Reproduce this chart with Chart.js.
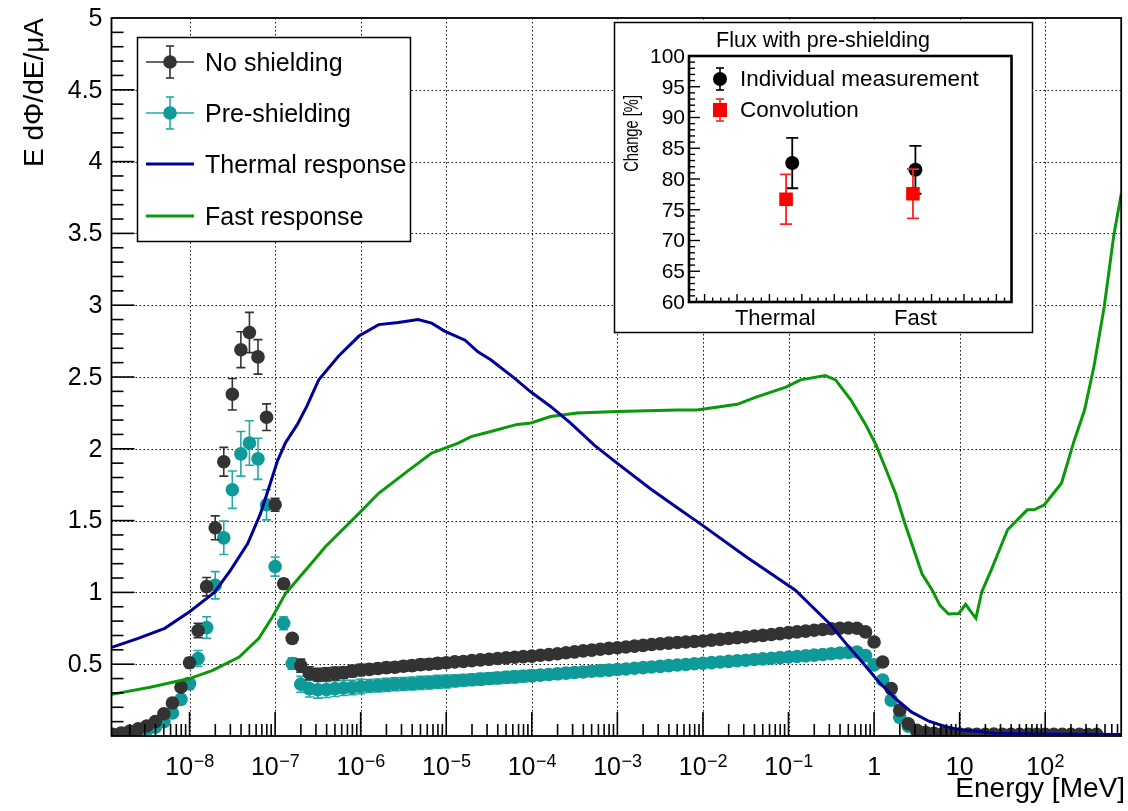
<!DOCTYPE html>
<html>
<head>
<meta charset="utf-8">
<title>Neutron flux with and without pre-shielding</title>
<script src="https://cdn.jsdelivr.net/npm/chart.js@4.4.1/dist/chart.umd.min.js"></script>
<style>
  html, body { margin: 0; padding: 0; background: #fff; }
  #wrap { position: relative; width: 1128px; height: 811px; overflow: hidden; }
  #main { position: absolute; left: 0; top: 0; }
  #inset { position: absolute; left: 613px; top: 21px; }
</style>
</head>
<body>
<div id="wrap">
  <canvas id="main" width="1128" height="811"></canvas>
  <canvas id="inset" width="421" height="313"></canvas>
</div>
<script>
const FONT = '"Liberation Sans", Arial, Helvetica, sans-serif';

// ---- measured spectra: bin centres, ten bins per decade from 10^-8.9 MeV ----
const firstLogE = -8.9;
const binsPerDecade = 10;

const noShieldingFlux = [
  0.012, 0.02, 0.033, 0.05, 0.07, 0.10, 0.155, 0.23, 0.34, 0.51,
  0.735, 1.04, 1.45, 1.91, 2.38, 2.69, 2.81, 2.64, 2.22, 1.61,
  1.06, 0.68, 0.49, 0.437, 0.426, 0.43, 0.436, 0.441, 0.452, 0.46,
  0.464, 0.47, 0.476, 0.479, 0.486, 0.49, 0.497, 0.5, 0.506, 0.51,
  0.516, 0.519, 0.525, 0.53, 0.534, 0.54, 0.544, 0.548, 0.553, 0.556,
  0.562, 0.567, 0.573, 0.58, 0.586, 0.593, 0.598, 0.604, 0.61, 0.615,
  0.62, 0.626, 0.631, 0.637, 0.642, 0.647, 0.651, 0.655, 0.658, 0.662,
  0.668, 0.673, 0.679, 0.685, 0.69, 0.696, 0.701, 0.707, 0.713, 0.72,
  0.725, 0.73, 0.736, 0.742, 0.747, 0.75, 0.752, 0.75, 0.725, 0.655,
  0.515, 0.33, 0.18, 0.085, 0.04, 0.025, 0.018, 0.015, 0.014, 0.013,
  0.013, 0.012, 0.012, 0.013, 0.012, 0.011, 0.012, 0.012, 0.011, 0.012,
  0.011, 0.012, 0.011, 0.011, 0.01, 0.011
];
const noShieldingErr = [
  0.004, 0.005, 0.006, 0.008, 0.01, 0.012, 0.015, 0.02, 0.025, 0.035,
  0.05, 0.064, 0.083, 0.10, 0.11, 0.125, 0.14, 0.12, 0.093, 0.045,
  0.035, 0.03, 0.045, 0.045, 0.045, 0.045, 0.045, 0.04, 0.04, 0.04,
  0.035, 0.035, 0.035, 0.035, 0.035, 0.035, 0.035, 0.035, 0.035, 0.035,
  0.03, 0.03, 0.03, 0.03, 0.03, 0.03, 0.03, 0.03, 0.03, 0.03,
  0.025, 0.025, 0.025, 0.025, 0.025, 0.025, 0.025, 0.025, 0.025, 0.025,
  0.02, 0.02, 0.02, 0.02, 0.02, 0.02, 0.02, 0.02, 0.02, 0.02,
  0.02, 0.02, 0.02, 0.02, 0.02, 0.02, 0.02, 0.02, 0.02, 0.02,
  0.02, 0.02, 0.02, 0.02, 0.02, 0.02, 0.02, 0.02, 0.02, 0.02,
  0.018, 0.015, 0.01, 0.008, 0.005, 0.004, 0.004, 0.003, 0.003, 0.003,
  0.003, 0.003, 0.003, 0.003, 0.003, 0.003, 0.003, 0.003, 0.003, 0.003,
  0.003, 0.003, 0.003, 0.003, 0.003, 0.003
];
const preShieldingFlux = [
  0.006, 0.01, 0.017, 0.026, 0.04, 0.062, 0.10, 0.16, 0.255, 0.365,
  0.54, 0.755, 1.05, 1.38, 1.715, 1.965, 2.04, 1.93, 1.61, 1.18,
  0.785, 0.505, 0.36, 0.33, 0.322, 0.324, 0.33, 0.334, 0.338, 0.345,
  0.348, 0.352, 0.356, 0.36, 0.362, 0.366, 0.37, 0.372, 0.377, 0.38,
  0.384, 0.388, 0.392, 0.396, 0.4, 0.404, 0.408, 0.412, 0.416, 0.42,
  0.424, 0.428, 0.433, 0.438, 0.442, 0.446, 0.451, 0.455, 0.459, 0.463,
  0.467, 0.472, 0.476, 0.481, 0.485, 0.49, 0.494, 0.498, 0.503, 0.507,
  0.511, 0.515, 0.52, 0.524, 0.528, 0.533, 0.537, 0.541, 0.546, 0.55,
  0.554, 0.558, 0.563, 0.568, 0.573, 0.578, 0.582, 0.585, 0.56, 0.495,
  0.39, 0.25, 0.13, 0.068, 0.03, 0.016, 0.011, 0.009, 0.008, 0.008,
  0.008, 0.007, 0.008, 0.007, 0.007, 0.008, 0.007, 0.007, 0.006, 0.007,
  0.007, 0.006, 0.007, 0.006, 0.006, 0.006
];
const preShieldingErr = [
  0.003, 0.004, 0.005, 0.007, 0.009, 0.012, 0.016, 0.022, 0.03, 0.04,
  0.055, 0.075, 0.095, 0.116, 0.13, 0.155, 0.155, 0.143, 0.105, 0.067,
  0.045, 0.04, 0.055, 0.058, 0.058, 0.056, 0.055, 0.052, 0.05, 0.05,
  0.045, 0.045, 0.045, 0.045, 0.045, 0.045, 0.045, 0.045, 0.045, 0.045,
  0.04, 0.04, 0.04, 0.04, 0.04, 0.04, 0.04, 0.04, 0.04, 0.04,
  0.035, 0.035, 0.035, 0.035, 0.035, 0.035, 0.035, 0.035, 0.035, 0.035,
  0.03, 0.03, 0.03, 0.03, 0.03, 0.03, 0.03, 0.03, 0.03, 0.03,
  0.03, 0.03, 0.03, 0.03, 0.03, 0.03, 0.03, 0.03, 0.03, 0.03,
  0.03, 0.03, 0.03, 0.03, 0.03, 0.03, 0.03, 0.03, 0.03, 0.025,
  0.02, 0.015, 0.01, 0.006, 0.004, 0.003, 0.003, 0.003, 0.003, 0.003,
  0.003, 0.003, 0.003, 0.003, 0.003, 0.003, 0.003, 0.003, 0.003, 0.003,
  0.003, 0.003, 0.003, 0.003, 0.003, 0.003
];

// ---- detector response curves (log10 E [MeV], response) ----
const thermalLogE = [
  -8.91, -8.6, -8.29, -8.0, -7.71, -7.52, -7.32, -7.17, -7.05, -6.97,
  -6.88, -6.74, -6.63, -6.49, -6.26, -6.02, -5.79, -5.56, -5.33, -5.17,
  -5.02, -4.78, -4.63, -4.48, -4.2, -4.01, -3.78, -3.55, -3.27, -3.0,
  -2.61, -2.3, -2.0, -1.5, -0.92, -0.525, -0.33, -0.14, 0.056, 0.25,
  0.44, 0.64, 0.83, 1.0, 1.22, 1.41, 1.8, 2.2, 2.89
];
const thermalResp = [
  0.617, 0.68, 0.75, 0.865, 1.0, 1.155, 1.34, 1.55, 1.77, 1.92,
  2.04, 2.17, 2.295, 2.48, 2.645, 2.785, 2.865, 2.88, 2.9, 2.875,
  2.82, 2.756, 2.675, 2.62, 2.49, 2.395, 2.295, 2.18, 2.025, 1.898,
  1.72, 1.59, 1.465, 1.25, 1.015, 0.785, 0.645, 0.515, 0.376, 0.26,
  0.166, 0.103, 0.066, 0.043, 0.031, 0.02, 0.015, 0.012, 0.01
];
const fastLogE = [
  -8.91, -8.46, -8.0, -7.73, -7.42, -7.19, -7.03, -6.88, -6.78, -6.55,
  -6.41, -6.02, -5.79, -5.44, -5.17, -4.86, -4.71, -4.48, -4.17, -4.01,
  -3.78, -3.47, -3.0, -2.3, -2.07, -1.6, -1.38, -1.03, -0.86, -0.57,
  -0.45, -0.27, -0.1, 0.02, 0.13, 0.25, 0.36, 0.44, 0.56, 0.68,
  0.77, 0.87, 0.99, 1.07, 1.12, 1.19, 1.26, 1.37, 1.56, 1.79,
  1.87, 1.99, 2.19, 2.34, 2.46, 2.57, 2.69, 2.8, 2.89
];
const fastResp = [
  0.29, 0.34, 0.40, 0.457, 0.55, 0.68, 0.83, 0.99, 1.06, 1.22,
  1.32, 1.55, 1.69, 1.85, 1.97, 2.04, 2.085, 2.12, 2.17, 2.18,
  2.225, 2.25, 2.26, 2.27, 2.27, 2.31, 2.36, 2.43, 2.48, 2.51,
  2.48, 2.34, 2.17, 2.03, 1.87, 1.69, 1.48, 1.34, 1.13, 1.015,
  0.91, 0.85, 0.853, 0.917, 0.875, 0.82, 1.006, 1.157, 1.436, 1.575,
  1.575, 1.61, 1.76, 2.06, 2.27, 2.575, 2.99, 3.48, 3.78
];

// ---- axes ----
const xLogRange = [-8.912, 2.888];
const xDecades = [-8, -7, -6, -5, -4, -3, -2, -1, 0, 1, 2];
const yRange = [0, 5];
const yTickLabels = ['0.5', '1', '1.5', '2', '2.5', '3', '3.5', '4', '4.5', '5'];

// ---- inset: change of integrated flux with pre-shielding ----
const insetCategories = ['Thermal', 'Fast'];
const insetCategoryX = [1, 2];
const individualChange = [82.6, 81.5];
const individualErr = [4.1, 3.9];
const convolutionX = [0.95, 1.98];
const convolutionChange = [76.7, 77.6];
const convolutionErr = [4.05, 4.0];
const insetYTicks = ['60', '65', '70', '75', '80', '85', '90', '95', '100'];
const insetXRange = [0.162, 2.78];
const insetTickAnchor = 2.394;   // one primary division of the category axis
const insetTickStep = 0.2632;    // primary division width, 4 secondary each

// -------------------------------------------------------------------------
const energyOf = i => Math.pow(10, firstLogE + i / binsPerDecade);
const pts = (vals) => vals.map((v, i) => ({ x: energyOf(i), y: v }));
const curve = (logs, vals) => logs.map((l, i) => ({ x: Math.pow(10, l), y: vals[i] }));

function line(ctx, x1, y1, x2, y2) {
  ctx.beginPath(); ctx.moveTo(x1, y1); ctx.lineTo(x2, y2); ctx.stroke();
}

// vertical error bars drawn underneath each marker set
const errorBars = {
  id: 'errorBars',
  beforeDatasetDraw(chart, args) {
    const ds = chart.data.datasets[args.index];
    if (!ds.errors) return;
    const { ctx, chartArea: a, scales } = chart;
    const y = scales.y;
    const meta = args.meta;
    ctx.save();
    ctx.beginPath(); ctx.rect(a.left, a.top, a.right - a.left, a.bottom - a.top); ctx.clip();
    ctx.strokeStyle = ds.errorColor; ctx.lineWidth = ds.errorWidth || 1.6;
    const cap = ds.capHalf || 4.5;
    meta.data.forEach((el, i) => {
      const v = ds.data[i].y, e = ds.errors[i];
      const yt = y.getPixelForValue(v + e), yb = y.getPixelForValue(v - e);
      line(ctx, el.x, yt, el.x, yb);
      line(ctx, el.x - cap, yt, el.x + cap, yt);
      line(ctx, el.x - cap, yb, el.x + cap, yb);
    });
    ctx.restore();
  }
};

// ROOT-like frame: dotted grid, inward ticks, labels, titles and legend
const mainFrame = {
  id: 'mainFrame',
  beforeDatasetsDraw(chart) {
    const { ctx, chartArea: a, scales: { x, y } } = chart;
    ctx.save();
    ctx.strokeStyle = '#111'; ctx.lineWidth = 1; ctx.setLineDash([1.5, 2.5]);
    xDecades.forEach(d => {
      const px = Math.round(x.getPixelForValue(Math.pow(10, d))) + 0.5;
      line(ctx, px, a.top, px, a.bottom);
    });
    yTickLabels.slice(0, -1).forEach(t => {
      const py = Math.round(y.getPixelForValue(parseFloat(t))) + 0.5;
      line(ctx, a.left, py, a.right, py);
    });
    ctx.restore();
  },
  afterDatasetsDraw(chart) {
    const { ctx, chartArea: a, scales: { x, y } } = chart;
    ctx.save();
    ctx.strokeStyle = '#000'; ctx.lineWidth = 1.6;
    // x ticks
    for (let d = Math.floor(xLogRange[0]); d <= Math.ceil(xLogRange[1]); d++) {
      for (let m = 1; m <= 9; m++) {
        const v = m * Math.pow(10, d);
        const lv = Math.log10(v);
        if (lv < xLogRange[0] || lv > xLogRange[1]) continue;
        const px = x.getPixelForValue(v);
        line(ctx, px, a.bottom, px, a.bottom - (m === 1 ? 24 : 12));
      }
    }
    // y ticks
    for (let i = 1; i < 50; i++) {
      const py = y.getPixelForValue(i / 10);
      line(ctx, a.left, py, a.left + (i % 5 === 0 ? 23 : 12), py);
    }
    // frame
    ctx.lineWidth = 1.8;
    ctx.strokeRect(a.left, a.top, a.right - a.left, a.bottom - a.top);

    // y labels
    ctx.fillStyle = '#000';
    ctx.font = `25px ${FONT}`;
    ctx.textAlign = 'right'; ctx.textBaseline = 'middle';
    yTickLabels.forEach(t => ctx.fillText(t, a.left - 9, y.getPixelForValue(parseFloat(t)) + 1));

    // x labels 10^n
    const baseY = 775;
    ctx.textBaseline = 'alphabetic'; ctx.textAlign = 'left';
    xDecades.forEach(d => {
      const px = x.getPixelForValue(Math.pow(10, d));
      if (d === 0 || d === 1) {
        ctx.font = `25px ${FONT}`;
        ctx.textAlign = 'center';
        ctx.fillText(d === 0 ? '1' : '10', px, baseY);
        ctx.textAlign = 'left';
        return;
      }
      const sup = d < 0 ? '\u2212' + (-d) : String(d);
      ctx.font = `25px ${FONT}`;
      const wb = ctx.measureText('10').width;
      ctx.font = `18px ${FONT}`;
      const ws = ctx.measureText(sup).width;
      const x0 = px - (wb + ws) / 2;
      ctx.font = `25px ${FONT}`;
      ctx.fillText('10', x0, baseY);
      ctx.font = `18px ${FONT}`;
      ctx.fillText(sup, x0 + wb + 0.5, baseY - 8);
    });

    // axis titles
    ctx.font = `28px ${FONT}`;
    ctx.textAlign = 'right';
    ctx.fillText('Energy [MeV]', 1125, 797);
    ctx.save();
    ctx.translate(43, a.top);
    ctx.rotate(-Math.PI / 2);
    ctx.textAlign = 'right';
    ctx.fillText('E d\u03A6/dE/\u03BCA', 0, 0);
    ctx.restore();
    ctx.restore();
  },
  afterDraw(chart) {
    const { ctx } = chart;
    const ds = chart.data.datasets;
    ctx.save();
    ctx.fillStyle = '#fff';
    ctx.fillRect(137, 37, 274, 205);
    ctx.strokeStyle = '#000'; ctx.lineWidth = 1.5;
    ctx.strokeRect(137.5, 37.5, 273, 204);
    const rows = [62, 113, 164, 216];
    const order = [2, 3, 0, 1];
    order.forEach((k, r) => {
      const d = ds[k], yy = rows[r];
      if (d.errors) {
        ctx.strokeStyle = d.errorColor; ctx.lineWidth = 1.6;
        line(ctx, 146, yy, 194, yy);
        line(ctx, 170, yy - 16, 170, yy + 16);
        line(ctx, 166, yy - 16, 174, yy - 16);
        line(ctx, 166, yy + 16, 174, yy + 16);
        ctx.fillStyle = d.backgroundColor;
        ctx.beginPath(); ctx.arc(170, yy, 6.8, 0, Math.PI * 2); ctx.fill();
      } else {
        ctx.strokeStyle = d.borderColor; ctx.lineWidth = 3;
        line(ctx, 146, yy, 194, yy);
      }
      ctx.fillStyle = '#000';
      ctx.font = `25px ${FONT}`;
      ctx.textAlign = 'left'; ctx.textBaseline = 'middle';
      ctx.fillText(d.label, 205, yy + 2);
    });
    ctx.restore();
  }
};

new Chart(document.getElementById('main'), {
  type: 'scatter',
  data: {
    datasets: [
      { label: 'Thermal response', data: curve(thermalLogE, thermalResp), showLine: true,
        borderColor: '#000099', borderWidth: 3, pointRadius: 0, tension: 0, order: 0 },
      { label: 'Fast response', data: curve(fastLogE, fastResp), showLine: true,
        borderColor: '#0a990a', borderWidth: 3, pointRadius: 0, tension: 0, order: 0 },
      { label: 'No shielding', data: pts(noShieldingFlux), errors: noShieldingErr,
        errorColor: '#333333', pointRadius: 6.8, pointBorderWidth: 0,
        backgroundColor: '#333333', order: 1 },
      { label: 'Pre-shielding', data: pts(preShieldingFlux), errors: preShieldingErr,
        errorColor: '#22a8a8', pointRadius: 6.8, pointBorderWidth: 0,
        backgroundColor: '#0f9a9a', order: 2 }
    ]
  },
  options: {
    responsive: false,
    devicePixelRatio: 1,
    animation: false,
    events: [],
    layout: { padding: { left: 111.5, top: 18, right: 1, bottom: 75 } },
    plugins: { legend: { display: false }, tooltip: { enabled: false } },
    scales: {
      x: { type: 'logarithmic', display: false,
           min: Math.pow(10, xLogRange[0]), max: Math.pow(10, xLogRange[1]) },
      y: { type: 'linear', display: false, min: yRange[0], max: yRange[1] }
    }
  },
  plugins: [errorBars, mainFrame]
});

// ---- inset chart ----
const insetFrame = {
  id: 'insetFrame',
  beforeDraw(chart) {
    const { ctx, width, height } = chart;
    ctx.save();
    ctx.fillStyle = '#fff';
    ctx.fillRect(0, 0, width, height);
    ctx.strokeStyle = '#000'; ctx.lineWidth = 1.5;
    ctx.strokeRect(1.5, 1.5, width - 3, height - 3);
    ctx.restore();
  },
  afterDatasetsDraw(chart) {
    const { ctx, chartArea: a, scales: { x, y } } = chart;
    ctx.save();
    ctx.strokeStyle = '#000'; ctx.lineWidth = 1.4;
    for (let v = 61; v < 100; v++) {
      const py = y.getPixelForValue(v);
      line(ctx, a.left, py, a.left + (v % 5 === 0 ? 11 : 6), py);
    }
    for (let k = -60; k <= 60; k++) {
      const v = insetTickAnchor + k * insetTickStep / 4;
      if (v <= x.min || v >= x.max) continue;
      const px = x.getPixelForValue(v);
      line(ctx, px, a.bottom, px, a.bottom - (Math.abs(k) % 4 === 0 ? 8 : 4.5));
    }
    ctx.lineWidth = 2.6;
    ctx.strokeRect(a.left, a.top, a.right - a.left, a.bottom - a.top);

    ctx.fillStyle = '#000';
    ctx.font = `21px ${FONT}`;
    ctx.textAlign = 'right'; ctx.textBaseline = 'middle';
    insetYTicks.forEach(t => ctx.fillText(t, a.left - 4, y.getPixelForValue(parseFloat(t)) + 1));
    ctx.textAlign = 'center'; ctx.textBaseline = 'alphabetic';
    ctx.font = `22px ${FONT}`;
    insetCategories.forEach((c, i) => {
      const px = x.getPixelForValue(insetCategoryX[i]) + (i === 0 ? -17 : 0);
      ctx.fillText(c, px, 304);
    });
    ctx.font = `21.5px ${FONT}`;
    ctx.fillText('Flux with pre-shielding', 210, 26);
    ctx.save();
    ctx.translate(24.5, 74);
    ctx.rotate(-Math.PI / 2);
    ctx.scale(0.7, 1);
    ctx.textAlign = 'right';
    ctx.font = `21px ${FONT}`;
    ctx.fillText('Change [%]', 0, 0);
    ctx.restore();

    // legend
    const ds = chart.data.datasets;
    const rows = [58, 89];
    [0, 1].forEach((k, r) => {
      const d = ds[k], yy = rows[r];
      ctx.strokeStyle = d.errorColor; ctx.lineWidth = 1.6;
      line(ctx, 107, yy - 11, 107, yy + 11);
      line(ctx, 103, yy - 11, 111, yy - 11);
      line(ctx, 103, yy + 11, 111, yy + 11);
      ctx.fillStyle = d.backgroundColor;
      if (d.pointStyle === 'rect') {
        ctx.fillRect(100, yy - 7, 14, 14);
      } else {
        ctx.beginPath(); ctx.arc(107, yy, 7, 0, Math.PI * 2); ctx.fill();
      }
      ctx.fillStyle = '#000';
      ctx.font = `22.5px ${FONT}`;
      ctx.textAlign = 'left'; ctx.textBaseline = 'middle';
      ctx.fillText(d.label, 127, yy + 1);
    });
    ctx.restore();
  }
};

new Chart(document.getElementById('inset'), {
  type: 'scatter',
  data: {
    datasets: [
      { label: 'Individual measurement',
        data: insetCategoryX.map((c, i) => ({ x: c, y: individualChange[i] })),
        errors: individualErr, errorColor: '#000', capHalf: 6, errorWidth: 1.8,
        pointRadius: 7, pointBorderWidth: 0, backgroundColor: '#000', order: 2 },
      { label: 'Convolution',
        data: convolutionX.map((c, i) => ({ x: c, y: convolutionChange[i] })),
        errors: convolutionErr, errorColor: '#ff2020', capHalf: 6, errorWidth: 1.8,
        pointStyle: 'rect', pointRadius: 9.6, pointBorderWidth: 0,
        backgroundColor: '#ff0000', order: 1 }
    ]
  },
  options: {
    responsive: false,
    devicePixelRatio: 1,
    animation: false,
    events: [],
    layout: { padding: { left: 76, top: 35, right: 22.5, bottom: 32 } },
    plugins: { legend: { display: false }, tooltip: { enabled: false } },
    scales: {
      x: { type: 'linear', display: false, min: insetXRange[0], max: insetXRange[1] },
      y: { type: 'linear', display: false, min: 60, max: 100 }
    }
  },
  plugins: [errorBars, insetFrame]
});
</script>
</body>
</html>
